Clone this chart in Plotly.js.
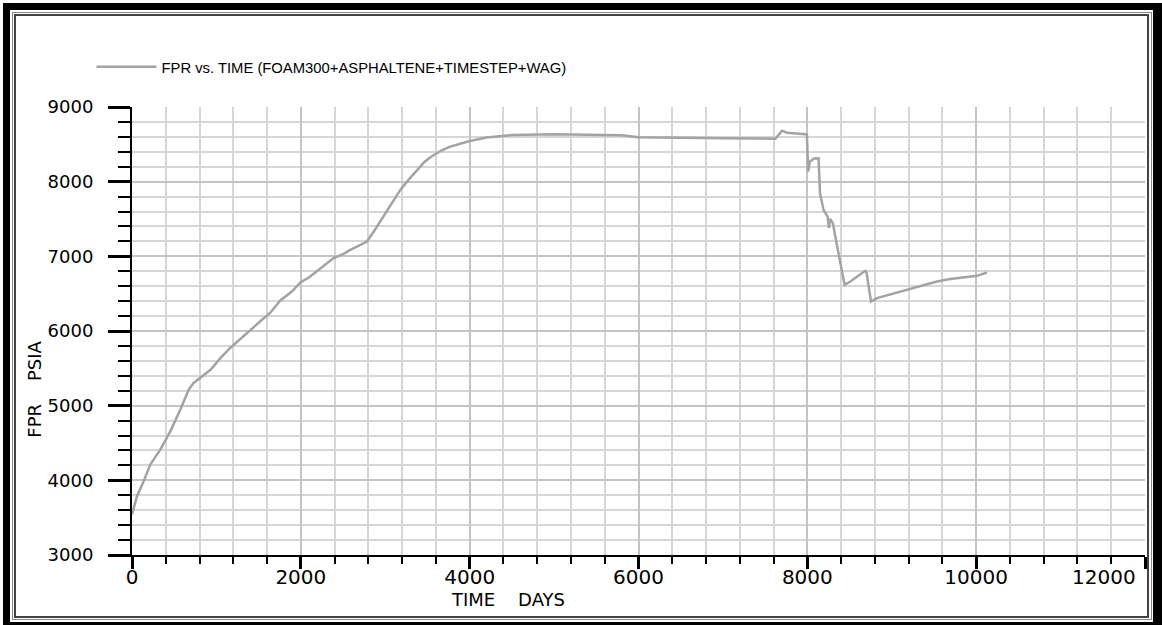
<!DOCTYPE html>
<html>
<head>
<meta charset="utf-8">
<script src="https://cdn.plot.ly/plotly-3.0.1.min.js"></script>
<style>
  html, body { margin: 0; padding: 0; background: #ffffff; width: 1162px; height: 625px; overflow: hidden; }
  #chart { position: absolute; left: 0; top: 0; width: 1162px; height: 625px; }
  .frame { position: absolute; box-sizing: border-box; pointer-events: none; }
  #f1 { left: 3px; top: 3px; width: 1159px; height: 622px; border-style: solid; border-color: #000; border-width: 7px 9px 3px 7px; }
  #f2 { left: 12px; top: 12px; width: 1140px; height: 608px; border: 1px solid #888; }
  #f3 { left: 14px; top: 14px; width: 1135px; height: 604px; border: 2px solid #444; }
</style>
</head>
<body>
<div id="chart"></div>
<div class="frame" id="f1"></div>
<div class="frame" id="f2"></div>
<div class="frame" id="f3"></div>
<script>
const seriesName = "FPR vs. TIME (FOAM300+ASPHALTENE+TIMESTEP+WAG)";
const timeDays = [0, 59, 138, 217, 335, 454, 572, 671, 730, 809, 930, 1050, 1165, 1280, 1401, 1520, 1638, 1757, 1894, 1994, 2100, 2191, 2300, 2388, 2500, 2586, 2700, 2783, 2880, 2980, 3080, 3178, 3280, 3376, 3470, 3573, 3670, 3770, 3880, 4000, 4200, 4500, 5000, 5500, 5800, 6000, 6500, 7000, 7400, 7621, 7700, 7759, 7976, 7995, 8010, 8030, 8080, 8133, 8150, 8192, 8240, 8255, 8270, 8303, 8331, 8370, 8390, 8441, 8510, 8600, 8686, 8700, 8754, 8825, 9000, 9101, 9298, 9535, 9693, 9900, 10009, 10128];
const fprPsia = [3542, 3787, 3987, 4211, 4411, 4656, 4946, 5214, 5304, 5370, 5480, 5640, 5776, 5890, 6017, 6130, 6245, 6410, 6529, 6650, 6720, 6797, 6890, 6976, 7030, 7087, 7150, 7198, 7360, 7532, 7710, 7890, 8030, 8157, 8270, 8358, 8420, 8469, 8510, 8545, 8590, 8625, 8635, 8630, 8620, 8595, 8585, 8580, 8578, 8575, 8683, 8656, 8635, 8630, 8134, 8268, 8310, 8313, 7845, 7622, 7532, 7380, 7500, 7444, 7265, 7043, 6909, 6619, 6663, 6740, 6806, 6790, 6395, 6441, 6495, 6529, 6596, 6663, 6695, 6725, 6739, 6783];
const xTickVals = [0, 2000, 4000, 6000, 8000, 10000, 12000];
const xTickLabels = ["0", "2000", "4000", "6000", "8000", "10000", "12000"];
const xTitle = "TIME\u00a0\u00a0\u00a0\u00a0DAYS";
const yTitle = "FPR\u00a0\u00a0\u00a0\u00a0PSIA";

// the last x label sits left of its tick (kept inside the frame), as in the reference:
// it is drawn as a right-anchored annotation at that tick value instead of a centred tick label
const lastIdx = xTickLabels.length - 1;
const xTickText = xTickLabels.map((t, i) => i === lastIdx ? '' : t);
const tickFont = { family: 'DejaVu Sans, sans-serif', size: 20, color: '#000' };

const trace = {
  x: timeDays, y: fprPsia, type: 'scatter', mode: 'lines', name: seriesName,
  line: { color: '#a3a3a3', width: 2.5 }
};

const axisCommon = {
  ticks: 'outside', tickcolor: '#000', showline: true, linecolor: '#000', linewidth: 2,
  showgrid: true, gridcolor: '#c4c4c4', gridwidth: 2, zeroline: false, fixedrange: true
};

const layout = {
  width: 1162, height: 625,
  margin: { l: 132, r: 17, t: 107, b: 70 },
  paper_bgcolor: '#ffffff', plot_bgcolor: '#ffffff',
  showlegend: true,
  legend: {
    x: -0.04, xanchor: 'left', y: 1.089, yanchor: 'middle',
    bgcolor: 'rgba(0,0,0,0)', borderwidth: 0, itemwidth: 60,
    font: { family: 'Liberation Sans, Arial, sans-serif', size: 14.8, color: '#000' }
  },
  xaxis: Object.assign({}, axisCommon, {
    range: [0, 12000], tickmode: 'array', tickvals: xTickVals, ticktext: xTickText,
    ticklen: 12, tickwidth: 3, ticklabelstandoff: -9,
    tickfont: tickFont,
    minor: { tick0: 0, dtick: 400, ticks: 'outside', ticklen: 7, tickwidth: 2, tickcolor: '#000', showgrid: true, gridcolor: '#d6d6d6', gridwidth: 2 }
  }),
  yaxis: Object.assign({}, axisCommon, {
    range: [3000, 9000], tick0: 3000, dtick: 1000, ticklen: 22, tickwidth: 3,
    ticklabelstandoff: 11, tickformat: 'd',
    tickfont: { family: 'DejaVu Sans, sans-serif', size: 18, color: '#000' },
    minor: { dtick: 200, ticks: 'outside', ticklen: 12, tickwidth: 2, tickcolor: '#000', showgrid: true, gridcolor: '#d6d6d6', gridwidth: 2 }
  }),
  annotations: [
    { text: xTickLabels[lastIdx], xref: 'x', yref: 'paper', x: xTickVals[lastIdx], y: -0.049, xanchor: 'right', yanchor: 'middle',
      xshift: -7, showarrow: false, font: tickFont },
    { text: xTitle, xref: 'paper', yref: 'paper', x: 0.3715, y: -0.1, xanchor: 'center', yanchor: 'middle', showarrow: false,
      font: { family: 'DejaVu Sans, sans-serif', size: 18, color: '#000' } },
    { text: yTitle, xref: 'paper', yref: 'paper', x: -0.0958, y: 0.3712, xanchor: 'center', yanchor: 'middle', showarrow: false, textangle: -90,
      font: { family: 'DejaVu Sans, sans-serif', size: 18, color: '#000' } }
  ]
};

Plotly.newPlot('chart', [trace], layout, { displayModeBar: false, staticPlot: true });
</script>
</body>
</html>
